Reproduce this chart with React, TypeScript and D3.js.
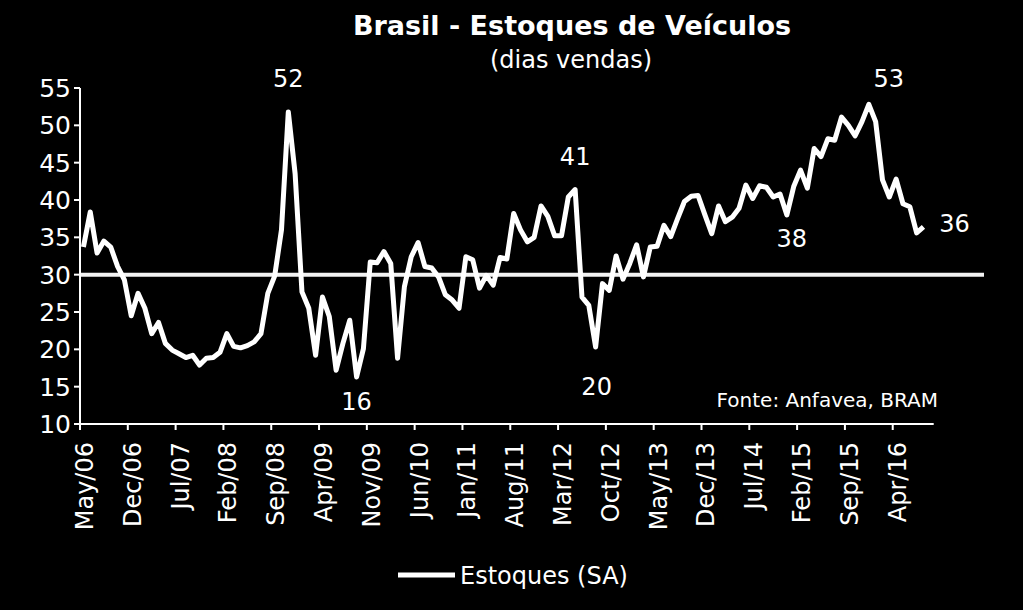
import React, { useEffect } from "react";
import * as d3 from "d3";

const title = "Brasil - Estoques de Veículos";
const subtitle = "(dias vendas)";
const seriesName = "Estoques (SA)";
const source = "Fonte: Anfavea, BRAM";

// Monthly categories May/06 .. Sep/16
const startMonth = new Date(2006, 4, 1);
const endMonth = new Date(2016, 9, 1); // exclusive
const months = d3.timeMonth.range(startMonth, endMonth);
const fmt = d3.timeFormat("%b/%y");
const categories = months.map((m) => fmt(m));

const tickLabels = [
  "May/06", "Dec/06", "Jul/07", "Feb/08", "Sep/08", "Apr/09", "Nov/09", "Jun/10",
  "Jan/11", "Aug/11", "Mar/12", "Oct/12", "May/13", "Dec/13", "Jul/14", "Feb/15",
  "Sep/15", "Apr/16",
];

const yTicks = [10, 15, 20, 25, 30, 35, 40, 45, 50, 55];

// Estoques (dias de vendas), May/06 .. Aug/16
const estoques = [
  33.7, 38.4, 32.9, 34.5, 33.7, 31.1, 29.3, 24.5, 27.5, 25.5,
  22.1, 23.6, 20.8, 19.9, 19.4, 18.9, 19.2, 17.9, 18.8, 18.9,
  19.6, 22.1, 20.4, 20.2, 20.5, 21.0, 22.1, 27.5, 29.8, 36.0,
  51.8, 43.5, 27.7, 25.5, 19.2, 27.0, 24.4, 17.2, 20.8, 23.9,
  16.3, 20.1, 31.7, 31.6, 33.1, 31.5, 18.8, 28.4, 32.4, 34.3,
  31.1, 30.9, 29.7, 27.3, 26.6, 25.5, 32.4, 32.0, 28.2, 29.9,
  28.6, 32.3, 32.1, 38.2, 36.0, 34.4, 35.0, 39.2, 37.8, 35.2,
  35.2, 40.4, 41.4, 27.0, 25.9, 20.3, 28.8, 27.9, 32.5, 29.4,
  31.5, 34.0, 29.7, 33.7, 33.8, 36.6, 35.1, 37.5, 39.8, 40.5,
  40.6, 38.0, 35.5, 39.2, 37.1, 37.7, 38.9, 42.0, 40.2, 41.9,
  41.7, 40.4, 40.8, 38.0, 41.8, 44.0, 41.6, 46.9, 45.8, 48.2,
  48.0, 51.1, 50.0, 48.6, 50.5, 52.8, 50.5, 42.7, 40.4, 42.8,
  39.5, 39.1, 35.6, 36.4,
];

const referenceValue = 30;

// annotations: index into series, label, offsets
const annotations = [
  { idx: 30, text: "52", dx: 0, dy: -25 },
  { idx: 40, text: "16", dx: 0, dy: 33 },
  { idx: 72, text: "41", dx: 0, dy: -25 },
  { idx: 75, text: "20", dx: 1, dy: 48 },
  { idx: 115, text: "53", dx: 20, dy: -17 },
  { idx: 103, text: "38", dx: 5, dy: 32 },
  { idx: 123, text: "36", dx: 31, dy: 5 },
];

const W = 1023;
const H = 610;
const FONT = "'DejaVu Sans', Verdana, sans-serif";

export default function App() {
  useEffect(() => {
    document.body.style.margin = "0";
    document.body.style.background = "#000";
  }, []);

  const x = d3.scaleBand<string>().domain(categories).range([80, 933.7]).paddingInner(0).paddingOuter(0);
  const bw = x.bandwidth();
  const cx = (i: number) => (x(categories[i]) as number) + bw / 2;
  const y = d3.scaleLinear().domain([10, 55]).range([424, 88]);

  const line = d3
    .line<number>()
    .x((_, i) => cx(i))
    .y((d) => y(d));

  const plotLeft = 80;
  const plotBottom = y(10);

  return (
    <svg width={W} height={H} style={{ display: "block", background: "#000" }} fontFamily={FONT}>
      <rect x={0} y={0} width={W} height={H} fill="#000" />
      <text x={572} y={35} textAnchor="middle" fill="#fff" fontSize={27} fontWeight="bold">
        {title}
      </text>
      <text x={571} y={68} textAnchor="middle" fill="#fff" fontSize={24}>
        {subtitle}
      </text>

      {/* y axis */}
      <line x1={plotLeft} x2={plotLeft} y1={y(55)} y2={plotBottom} stroke="#fff" strokeWidth={2} />
      {yTicks.map((t) => (
        <g key={t}>
          <line x1={plotLeft - 6} x2={plotLeft} y1={y(t)} y2={y(t)} stroke="#fff" strokeWidth={2} />
          <text x={71} y={y(t)} dy="0.36em" textAnchor="end" fill="#fff" fontSize={25}>
            {t}
          </text>
        </g>
      ))}

      {/* x axis */}
      <line x1={plotLeft} x2={933.7} y1={plotBottom} y2={plotBottom} stroke="#fff" strokeWidth={2} />
      {tickLabels.map((lab) => {
        const tx = x(lab) as number;
        return (
          <g key={lab}>
            <line x1={tx} x2={tx} y1={plotBottom} y2={plotBottom + 6} stroke="#fff" strokeWidth={2} />
            <text
              transform={`translate(${tx + 13},${plotBottom + 18}) rotate(-90)`}
              textAnchor="end"
              fill="#fff"
              fontSize={24}
            >
              {lab}
            </text>
          </g>
        );
      })}

      {/* reference line at 30 */}
      <line x1={plotLeft + 1} x2={984} y1={y(referenceValue)} y2={y(referenceValue)} stroke="#f2f2f2" strokeWidth={4} />

      {/* series */}
      <path d={line(estoques) || ""} fill="none" stroke="#fff" strokeWidth={5} strokeLinejoin="round" />

      {annotations.map((a) => (
        <text
          key={a.text}
          x={cx(a.idx) + a.dx}
          y={y(estoques[a.idx]) + a.dy}
          textAnchor="middle"
          fill="#fff"
          fontSize={24}
        >
          {a.text}
        </text>
      ))}

      <text x={938} y={407} textAnchor="end" fill="#fff" fontSize={20}>
        {source}
      </text>

      {/* legend */}
      <line x1={398} x2={455} y1={575} y2={575} stroke="#fff" strokeWidth={5} />
      <text x={460} y={584} fill="#fff" fontSize={24}>
        {seriesName}
      </text>
    </svg>
  );
}
